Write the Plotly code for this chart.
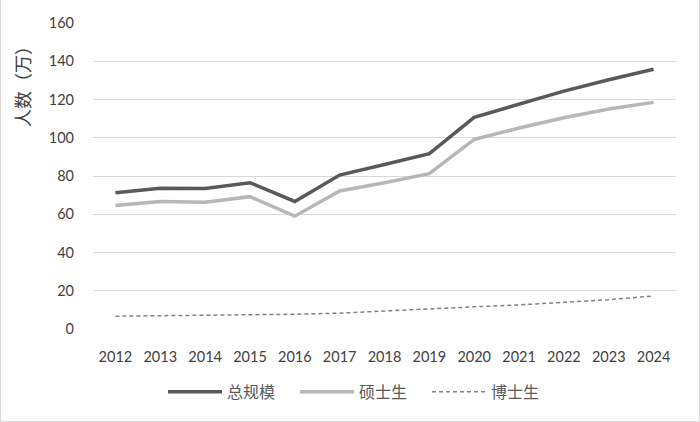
import plotly.graph_objects as go

years = ["2012", "2013", "2014", "2015", "2016", "2017", "2018", "2019", "2020", "2021", "2022", "2023", "2024"]
total = [71.3, 73.6, 73.5, 76.5, 66.7, 80.5, 86.0, 91.7, 110.7, 117.7, 124.4, 130.3, 135.8]
master = [64.6, 66.7, 66.3, 69.2, 59.0, 72.2, 76.5, 81.2, 99.1, 105.1, 110.5, 115.0, 118.5]
doctor = [6.7, 6.9, 7.2, 7.4, 7.7, 8.3, 9.5, 10.5, 11.6, 12.6, 13.9, 15.3, 17.3]
yticks = [0, 20, 40, 60, 80, 100, 120, 140, 160]

W, H = 700, 422
ML, MR, MT, MB = 93, 24, 23, 93
pw, ph = W - ML - MR, H - MT - MB

fig = go.Figure()
fig.add_trace(go.Scatter(x=years, y=total, name="总规模", mode="lines",
                         line=dict(color="#595959", width=3.5)))
fig.add_trace(go.Scatter(x=years, y=master, name="硕士生", mode="lines",
                         line=dict(color="#b7b7b7", width=3.5)))
fig.add_trace(go.Scatter(x=years, y=doctor, name="博士生", mode="lines",
                         line=dict(color="#808080", width=1.5, dash="4px,3px")))

num_font = dict(family="Lato, Open Sans, sans-serif", size=14.5, color="#404040")

fig.update_layout(
    width=W, height=H,
    margin=dict(l=ML, r=MR, t=MT, b=MB),
    paper_bgcolor="white", plot_bgcolor="white",
    showlegend=True,
    legend=dict(orientation="h", x=(163 - ML) / pw, xanchor="left", y=-0.205, yanchor="middle",
                font=dict(family="Noto Sans CJK SC", size=16, color="#595959"),
                itemwidth=54, entrywidth=63, entrywidthmode="pixels", tracegroupgap=0),
    xaxis=dict(type="category", range=[-0.5, 12.5], showgrid=False, zeroline=False,
               showline=False, ticks="", tickfont=num_font, ticklabelstandoff=17),
    yaxis=dict(range=[0, 160], tickvals=yticks, showgrid=True, gridcolor="#d9d9d9",
               gridwidth=1, zeroline=False, showline=False, ticks="",
               tickfont=num_font, ticklabelstandoff=18),
    annotations=[dict(text="人数（万）", textangle=-90, xref="paper", yref="paper",
                      x=(22 - ML) / pw, y=(H - MB - 82) / ph,
                      xanchor="center", yanchor="middle", showarrow=False,
                      font=dict(family="Noto Sans CJK SC", size=18, color="#404040"))],
    shapes=[dict(type="rect", xref="paper", yref="paper",
                 x0=(0.5 - ML) / pw, x1=(W - 0.5 - ML) / pw,
                 y0=-(H - 0.5 - MT - ph) / ph, y1=(H - 0.5 - MT) / ph,
                 line=dict(color="#d9d9d9", width=1), layer="below")],
)

fig.write_html("out.html", config={"displayModeBar": False},
               post_script="document.body.style.margin='0';")
